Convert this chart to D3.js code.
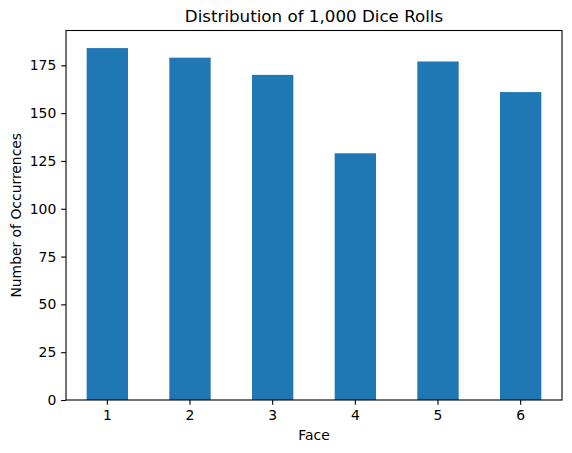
<!DOCTYPE html>
<html>
<head>
<meta charset="utf-8">
<script src="https://cdn.jsdelivr.net/npm/d3@7"></script>
<style>
  body { margin: 0; background: #fff; }
  text { font-family: "DejaVu Sans", sans-serif; fill: #000; }
</style>
</head>
<body>
<div class="chart"></div>
<script>
// data
var faces = ["1", "2", "3", "4", "5", "6"];
var counts = [184, 179, 170, 129, 177, 161];
var yTicks = [0, 25, 50, 75, 100, 125, 150, 175];

var svgWidth = 572;
var svgHeight = 453;

var margin = { top: 30.5, right: 10, bottom: 53, left: 66 };
var width = svgWidth - margin.left - margin.right;
var height = svgHeight - margin.top - margin.bottom;

var svg = d3.select(".chart")
  .append("svg")
  .attr("width", svgWidth)
  .attr("height", svgHeight);

var chartGroup = svg.append("g")
  .attr("transform", `translate(${margin.left}, ${margin.top})`);

var xScale = d3.scaleBand()
  .domain(faces)
  .range([0, width])
  .paddingInner(0.5)
  .paddingOuter(0.25);

var yScale = d3.scaleLinear()
  .domain([0, d3.max(counts) * 1.05])
  .range([height, 0]);

// bars
chartGroup.selectAll("rect")
  .data(counts)
  .enter()
  .append("rect")
  .attr("x", (d, i) => xScale(faces[i]))
  .attr("y", d => yScale(d))
  .attr("width", xScale.bandwidth())
  .attr("height", d => height - yScale(d))
  .style("fill", "#1f77b4");

// axes
var bottomAxis = d3.axisBottom(xScale).tickSize(4.86).tickPadding(4.86).tickSizeOuter(0);
var leftAxis = d3.axisLeft(yScale).tickValues(yTicks).tickSize(4.86).tickPadding(4.86).tickSizeOuter(0);

var xAxis = chartGroup.append("g")
  .attr("transform", `translate(0, ${height})`)
  .call(bottomAxis);

var yAxis = chartGroup.append("g")
  .call(leftAxis);

[xAxis, yAxis].forEach(ax => {
  ax.select(".domain").remove();
  ax.selectAll(".tick line").attr("stroke", "#000").attr("stroke-width", 1.1);
  ax.selectAll(".tick text").style("font-size", "13.9px").style("font-family", "DejaVu Sans");
});

// frame
chartGroup.append("rect")
  .attr("x", 0)
  .attr("y", 0)
  .attr("width", width)
  .attr("height", height)
  .attr("fill", "none")
  .attr("stroke", "#000")
  .attr("stroke-width", 1.1);

// title and labels
chartGroup.append("text")
  .attr("x", width / 2)
  .attr("y", -8.3)
  .attr("text-anchor", "middle")
  .style("font-size", "16.7px")
  .text("Distribution of 1,000 Dice Rolls");

chartGroup.append("text")
  .attr("x", width / 2)
  .attr("y", height + 40)
  .attr("text-anchor", "middle")
  .style("font-size", "13.9px")
  .text("Face");

chartGroup.append("text")
  .attr("transform", `translate(${-45}, ${height / 2}) rotate(-90)`)
  .attr("text-anchor", "middle")
  .style("font-size", "13.9px")
  .text("Number of Occurrences");
</script>
</body>
</html>
